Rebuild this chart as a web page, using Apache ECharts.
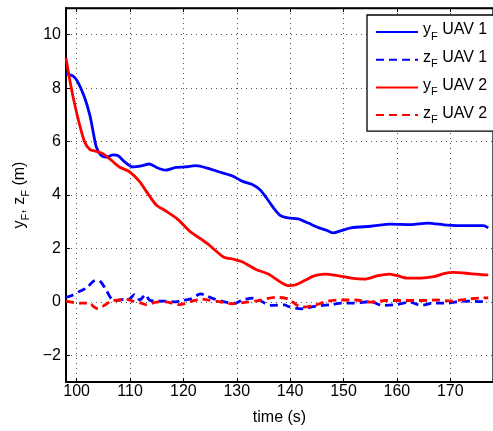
<!DOCTYPE html>
<html>
<head>
<meta charset="utf-8">
<script src="https://cdn.jsdelivr.net/npm/echarts@6/dist/echarts.min.js"></script>
<style>html,body{margin:0;padding:0;background:#fff}#c{width:493px;height:431px}</style>
</head>
<body>
<div id="c"></div>
<script>
// ---- data ----
const xTicks = [100, 110, 120, 130, 140, 150, 160, 170];
const yTicks = [-2, 0, 2, 4, 6, 8, 10];
const seriesNames = ['y_F UAV 1', 'z_F UAV 1', 'y_F UAV 2', 'z_F UAV 2'];

const tY1 = [98.0,99.4,100.3,101.5,102.5,103.1,103.7,104.6,105.6,106.8,107.7,109.0,110.5,112.1,113.6,115.2,116.7,118.6,120.4,122.3,124.8,126.6,129.1,131.0,132.8,134.4,135.6,136.9,138.1,139.6,141.5,143.4,145.2,146.8,148.1,149.6,151.4,155.1,158.9,162.6,165.7,169.4,173.7,176.2,177.1];
const vY1 = [8.53,8.44,8.20,7.64,6.96,6.35,5.79,5.48,5.42,5.50,5.48,5.24,5.05,5.09,5.16,5.01,4.93,5.03,5.05,5.10,4.99,4.87,4.72,4.52,4.40,4.19,3.88,3.51,3.24,3.14,3.11,2.95,2.79,2.68,2.58,2.67,2.77,2.83,2.91,2.89,2.95,2.87,2.85,2.85,2.77];

const tZ1 = [98.0,99.1,100.6,101.9,103.1,104.0,104.6,105.6,106.5,107.4,108.7,109.9,110.8,111.8,112.9,113.6,114.9,116.7,118.6,119.7,121.4,123.2,124.2,125.7,127.9,129.7,131.0,133.1,134.4,136.2,139.0,139.6,142.1,144.6,147.7,149.6,152.0,155.1,157.2,160.0,162.5,164.4,166.8,169.3,172.4,175.5,177.1];
const vZ1 = [0.17,0.24,0.40,0.52,0.77,0.81,0.73,0.42,0.11,0.05,0.09,0.11,0.27,0.07,0.27,0.07,0.03,0.03,0.00,0.05,0.11,0.30,0.24,0.11,-0.01,-0.05,0.07,0.14,0.05,-0.13,-0.11,-0.17,-0.26,-0.17,-0.10,-0.05,-0.05,0.01,-0.13,-0.10,-0.01,-0.13,-0.05,-0.05,0.03,0.01,0.05];

const tY2 = [98.0,98.8,99.7,100.6,101.5,102.5,103.7,105.0,106.5,108.0,109.9,111.8,113.3,114.9,116.7,119.0,121.1,124.5,127.5,129.5,131.0,133.5,135.9,137.8,139.6,140.9,142.8,144.6,146.5,148.9,151.4,153.9,156.4,158.5,160.1,161.9,164.4,166.9,168.8,170.6,173.7,176.8,177.1];
const vY2 = [9.13,8.20,7.33,6.59,5.98,5.70,5.63,5.54,5.30,5.05,4.87,4.50,4.06,3.63,3.40,3.08,2.66,2.18,1.68,1.59,1.50,1.22,1.04,0.79,0.61,0.63,0.81,0.98,1.04,0.98,0.89,0.85,0.98,1.04,0.98,0.89,0.89,0.94,1.06,1.10,1.06,1.01,1.01];

const tZ2 = [98.0,100.6,102.5,103.1,104.0,104.9,106.5,108.0,109.3,110.5,112.1,113.1,114.9,116.7,118.0,119.2,121.7,123.5,124.5,126.6,129.1,131.9,134.1,137.2,139.6,142.1,144.6,147.1,149.6,152.3,155.1,157.9,160.7,164.1,167.5,170.3,173.1,176.1,177.1];
const vZ2 = [0.03,-0.05,-0.05,-0.17,-0.26,-0.17,0.03,0.07,0.09,0.03,-0.05,-0.11,-0.01,0.00,-0.05,-0.10,0.03,0.10,0.07,0.01,-0.07,-0.01,0.05,0.17,0.11,-0.20,-0.13,0.03,0.07,0.07,-0.01,0.05,0.05,0.05,0.07,0.03,0.10,0.15,0.15];

// ---- chart ----
const zip = (t, v) => t.map((x, i) => [x, v[i]]);
const FONT = 'Liberation Sans';
const rich = {
  a: { fontFamily: FONT, fontSize: 16, color: '#000', verticalAlign: 'top', lineHeight: 16 },
  s: { fontFamily: FONT, fontSize: 11, color: '#000', verticalAlign: 'top', padding: [9, 0, 0, 0] }
};
const toRich = s => s.split('_F').map(p => p ? '{a|' + p + '}' : '').join('{s|F}');
const minus = v => String(v).replace('-', '\u2212');
const dotted = { color: '#555', width: 1, type: [1, 4] };

const chart = echarts.init(document.getElementById('c'), null, { renderer: 'canvas' });
const colors = ['#0000ff', '#0000ff', '#ff0000', '#ff0000'];
const datas = [zip(tY1, vY1), zip(tZ1, vZ1), zip(tY2, vY2), zip(tZ2, vZ2)];
const dashedFlags = [false, true, false, true];

chart.setOption({
  animation: false,
  backgroundColor: '#fff',
  grid: { left: 66, top: 8, width: 430, height: 377, show: true, borderColor: '#000', borderWidth: 1.3, containLabel: false },
  xAxis: [{
    type: 'value', min: 98, max: 178, position: 'bottom',
    name: 'time (s)', nameLocation: 'middle', nameGap: 28,
    nameTextStyle: { fontFamily: FONT, fontSize: 16, color: '#000' },
    axisLine: { show: true, onZero: false, lineStyle: { color: '#000', width: 2 } },
    axisTick: { show: true, inside: true, length: 4, customValues: xTicks, lineStyle: { color: '#000' } },
    axisLabel: { customValues: xTicks, fontFamily: FONT, fontSize: 16, color: '#000', margin: 2 },
    splitLine: { show: true, lineStyle: dotted }
  }, {
    type: 'value', min: 98, max: 178, position: 'top',
    axisLine: { show: true, onZero: false, lineStyle: { color: '#000', width: 1.3 } },
    axisTick: { show: true, inside: true, length: 4, customValues: xTicks, lineStyle: { color: '#000' } },
    axisLabel: { show: false },
    splitLine: { show: false }
  }],
  yAxis: [{
    type: 'value', min: -3, max: 11, position: 'left',
    name: toRich('y_F, z_F (m)'), nameLocation: 'middle', nameGap: 26, nameRotate: 90,
    nameTextStyle: { rich: rich },
    axisLine: { show: true, onZero: false, lineStyle: { color: '#000', width: 2 } },
    axisTick: { show: true, inside: true, length: 4, customValues: yTicks, lineStyle: { color: '#000' } },
    axisLabel: { customValues: yTicks, fontFamily: FONT, fontSize: 16, color: '#000', margin: 5, formatter: minus },
    splitLine: { show: true, lineStyle: dotted }
  }],
  legend: {
    orient: 'vertical', left: 367, top: 15, width: 150,
    padding: [7, 40, 6, 8], itemGap: 7.7, itemWidth: 42, itemHeight: 14,
    backgroundColor: '#fff', borderColor: '#000', borderWidth: 1.3, borderRadius: 0,
    data: seriesNames,
    itemStyle: { opacity: 0 },
    formatter: toRich,
    textStyle: { rich: rich }
  },
  series: seriesNames.map((n, i) => ({
    name: n, type: 'line', xAxisIndex: 0, yAxisIndex: 0,
    data: datas[i], symbol: 'none', smooth: 0.25,
    lineStyle: { color: colors[i], width: 2.8, type: dashedFlags[i] ? [8, 5] : 'solid' },
    itemStyle: { color: colors[i] },
    z: 2 + i
  }))
});
</script>
</body>
</html>
